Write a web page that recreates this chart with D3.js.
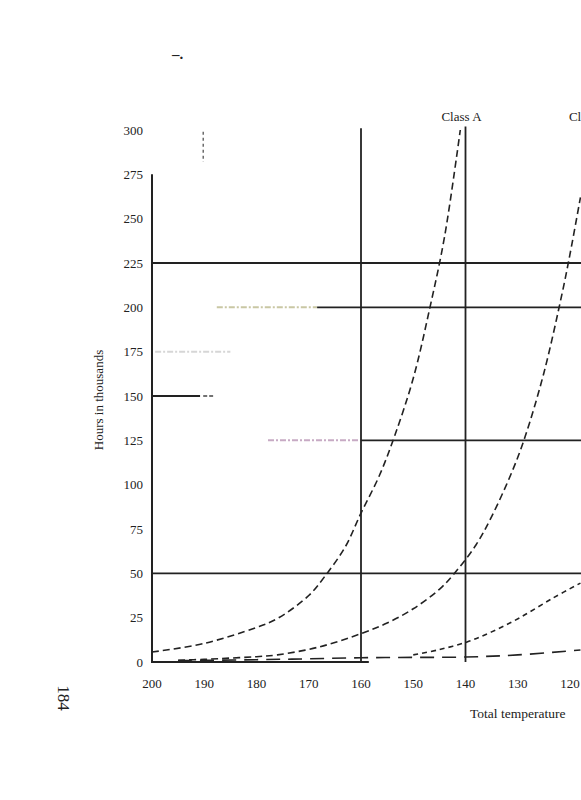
<!DOCTYPE html>
<html>
<head>
<meta charset="utf-8">
<script src="https://cdn.jsdelivr.net/npm/d3@7"></script>
<style>
  body { margin: 0; background: #fff; }
  svg { display: block; }
  text { font-family: "Liberation Serif", "DejaVu Serif", serif; fill: #222; }
</style>
</head>
<body>
<div id="chart"></div>
<script>
// Axis ticks
const tempTicks = [200, 190, 180, 170, 160, 150, 140, 130, 120];
const hourTicks = [0, 25, 50, 75, 100, 125, 150, 175, 200, 225, 250, 275, 300];

// Life curves: [temperature, thousand hours]
const curveA = [[200, 5.6], [190, 10.5], [180, 19.5], [176, 24.5], [170, 37.5], [167, 48], [163, 65],
  [160, 84], [156.5, 105], [153.5, 128], [150, 160], [146.8, 200], [144, 240], [141, 300]];
const curveB = [[195, 1], [190, 1.5], [185, 2.2], [180, 3], [176, 4], [168, 8.5], [160, 16], [155, 22], [150, 30],
  [145, 41], [142.4, 49], [138, 66], [135, 82], [131, 108], [128.6, 127], [125, 163], [121.5, 208], [120, 230], [118, 262]];
const curveC = [[150, 4], [145, 7], [139.7, 11.3], [135, 17], [129.6, 25], [123.3, 36], [118, 44.5]];
const curveD = [[195, 0.8], [180, 1.3], [170, 1.8], [160, 2.4], [150, 2.6], [140, 2.8], [130, 4], [118, 6.8]];

// Class limit verticals: [temperature, top value]
const classLines = [[160, 301], [140, 302]];
const classLabels = [["Class A", 144.6], ["Class B", 120.2]];

// Horizontal reference lines: [hours, from temp, to temp]
const solidRefs = [[225, 200, 117], [200, 168.4, 117], [150, 200, 190.8], [125, 160, 117], [50, 200, 117]];
const fadedRefs = [[200, 187.6, 168.4, "#c9c7a4"], [175, 199.4, 185, "#d6d6d6"], [125, 177.8, 160, "#c7aac4"]];

const width = 581, height = 800;
const svg = d3.select("#chart").append("svg")
  .attr("width", width)
  .attr("height", height);

const x = d3.scaleLinear().domain([200, 120]).range([152, 570]);
const y = d3.scaleLinear().domain([0, 300]).range([662, 130]);

// faded reference lines
fadedRefs.forEach(r => {
  svg.append("line")
    .attr("x1", x(r[1])).attr("x2", x(r[2]))
    .attr("y1", y(r[0])).attr("y2", y(r[0]))
    .attr("stroke", r[3]).attr("stroke-width", 2)
    .attr("stroke-dasharray", "6,2,2,2");
});

// solid reference lines
svg.selectAll(".ref")
  .data(solidRefs)
  .enter().append("line")
  .attr("class", "ref")
  .attr("x1", d => x(d[1])).attr("x2", d => x(d[2]))
  .attr("y1", d => y(d[0])).attr("y2", d => y(d[0]))
  .attr("stroke", "#222").attr("stroke-width", 1.8);

// short dash after the 150 stub
svg.append("line")
  .attr("x1", x(190.2)).attr("x2", x(188.3))
  .attr("y1", y(150)).attr("y2", y(150))
  .attr("stroke", "#444").attr("stroke-width", 1.5)
  .attr("stroke-dasharray", "4,2");

// little dashed marker near the top
svg.append("line")
  .attr("x1", x(190.2)).attr("x2", x(190.2))
  .attr("y1", y(299)).attr("y2", y(282))
  .attr("stroke", "#555").attr("stroke-width", 1.3)
  .attr("stroke-dasharray", "3,3");

// class verticals
svg.selectAll(".cls")
  .data(classLines)
  .enter().append("line")
  .attr("class", "cls")
  .attr("x1", d => x(d[0])).attr("x2", d => x(d[0]))
  .attr("y1", d => y(d[1])).attr("y2", y(0))
  .attr("stroke", "#222").attr("stroke-width", 1.8);

// axes lines
svg.append("line")
  .attr("x1", x(200)).attr("x2", x(200))
  .attr("y1", y(275)).attr("y2", y(0) + 1)
  .attr("stroke", "#222").attr("stroke-width", 2);
svg.append("line")
  .attr("x1", x(200)).attr("x2", x(158.5))
  .attr("y1", y(0)).attr("y2", y(0))
  .attr("stroke", "#222").attr("stroke-width", 2);

// curves
const line = d3.line()
  .x(d => x(d[0]))
  .y(d => y(d[1]))
  .curve(d3.curveCatmullRom.alpha(0.5));

[[curveA, "7,4"], [curveB, "7,4"], [curveC, "5,4"], [curveD, "14,8"]].forEach(c => {
  svg.append("path")
    .datum(c[0])
    .attr("d", line)
    .attr("fill", "none")
    .attr("stroke", "#222")
    .attr("stroke-width", 1.6)
    .attr("stroke-dasharray", c[1]);
});

// tick labels
svg.selectAll(".ylab")
  .data(hourTicks)
  .enter().append("text")
  .attr("class", "ylab")
  .attr("x", 143)
  .attr("y", d => y(d))
  .attr("dy", "0.35em")
  .attr("text-anchor", "end")
  .attr("font-size", "13px")
  .text(d => d);

svg.selectAll(".xlab")
  .data(tempTicks)
  .enter().append("text")
  .attr("class", "xlab")
  .attr("x", d => x(d))
  .attr("y", 688)
  .attr("text-anchor", "middle")
  .attr("font-size", "13px")
  .text(d => d);

// class labels
svg.selectAll(".clab")
  .data(classLabels)
  .enter().append("text")
  .attr("class", "clab")
  .attr("x", d => x(d[1]))
  .attr("y", 121)
  .attr("font-size", "13px")
  .text(d => d[0]);

// axis titles
svg.append("text")
  .attr("transform", "translate(103,400) rotate(-90)")
  .attr("text-anchor", "middle")
  .attr("font-size", "13px")
  .text("Hours in thousands");

svg.append("text")
  .attr("x", 470)
  .attr("y", 718)
  .attr("font-size", "13.5px")
  .text("Total temperature");

// page marks
svg.append("text")
  .attr("x", 172)
  .attr("y", 59)
  .attr("font-size", "15px")
  .attr("font-weight", "bold")
  .text("–.");

svg.append("text")
  .attr("transform", "translate(58,698) rotate(90)")
  .attr("text-anchor", "middle")
  .attr("font-size", "17px")
  .text("184");
</script>
</body>
</html>
